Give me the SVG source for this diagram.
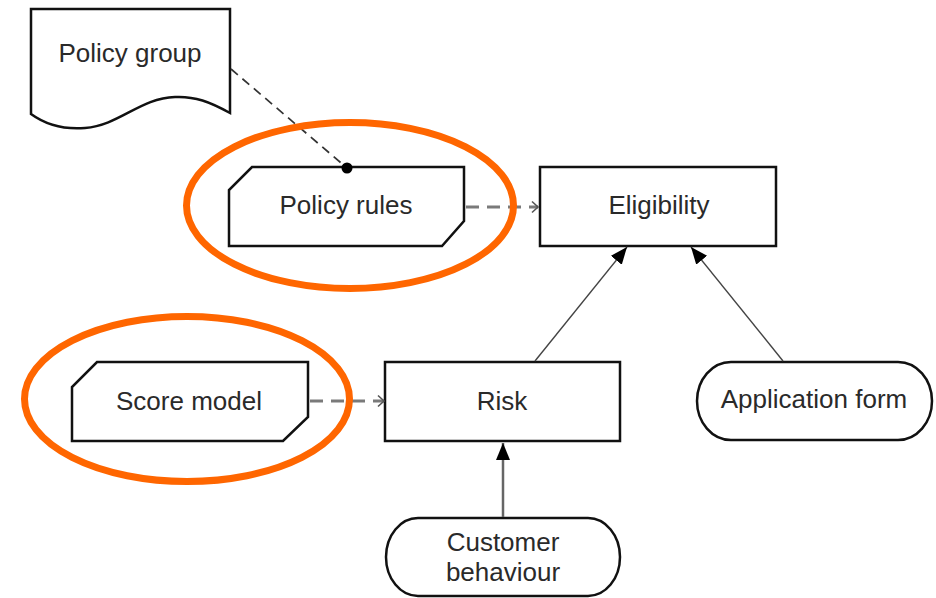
<svg xmlns="http://www.w3.org/2000/svg" width="936" height="598" viewBox="0 0 936 598">
<defs>
<style>
.box{fill:#fff;stroke:#111;stroke-width:2.5}
.t{font-family:"Liberation Sans",Arial,sans-serif;font-size:26px;fill:#2a2a2a;text-anchor:middle}
.dash{fill:none;stroke:#7a7a7a;stroke-width:3;stroke-dasharray:13 8}
.assoc{fill:none;stroke:#333;stroke-width:1.7;stroke-dasharray:9 6}
.flow{fill:none;stroke:#444;stroke-width:1.4}
.flowv{fill:none;stroke:#666;stroke-width:2.5}
.hl{fill:none;stroke:#ff6600;stroke-width:7}
</style>
<marker id="filled" markerUnits="userSpaceOnUse" markerWidth="18" markerHeight="16" refX="17" refY="7" orient="auto">
<path d="M0,0 L17,7 L0,14 Z" fill="#000"/>
</marker>
<marker id="open" markerUnits="userSpaceOnUse" markerWidth="10" markerHeight="14" refX="7" refY="7" orient="auto">
<path d="M1,1.5 L7,7 L1,12.5" fill="none" stroke="#555" stroke-width="1.6"/>
</marker>
</defs>
<rect width="936" height="598" fill="#fff"/>

<g id="policy-group">
<path class="box" d="M31,9 L230,9 L230,113 C210,102 195,96 175,97 C140,98 120,125 85,128 C60,130 42,122 31,114 Z"/>
<text class="t" x="130" y="62">Policy group</text>
</g>

<g id="policy-rules">
<path class="box" d="M252,167 L464,167 L464,221 L442,246 L229,246 L229,190 Z"/>
<text class="t" x="346" y="214">Policy rules</text>
</g>

<g id="eligibility">
<rect class="box" x="540" y="167" width="236" height="79"/>
<text class="t" x="659" y="214">Eligibility</text>
</g>

<g id="score-model">
<path class="box" d="M97,362 L308,362 L308,417 L283,441 L72,441 L72,387 Z"/>
<text class="t" x="189" y="410">Score model</text>
</g>

<g id="risk">
<rect class="box" x="385" y="362" width="235" height="79"/>
<text class="t" x="502" y="410">Risk</text>
</g>

<g id="application-form">
<rect class="box" x="697" y="362" width="235" height="78" rx="34" ry="39"/>
<text class="t" x="814" y="408">Application form</text>
</g>

<g id="customer-behaviour">
<rect class="box" x="386" y="518" width="234" height="78" rx="32" ry="39"/>
<text class="t" x="503" y="551">Customer</text>
<text class="t" x="503" y="581">behaviour</text>
</g>

<g id="connectors">
<path class="assoc" d="M231,69 L347,168"/>
<circle cx="347" cy="168" r="5.5" fill="#000"/>
<path class="dash" d="M466,207 L538,207" marker-end="url(#open)"/>
<path class="dash" d="M310,401 L384,401" marker-end="url(#open)"/>
<path class="flow" d="M535,361 L627,247" marker-end="url(#filled)"/>
<path class="flow" d="M783,361 L691,247" marker-end="url(#filled)"/>
<path class="flowv" d="M503,517 L503,443" marker-end="url(#filled)"/>
</g>

<g id="highlights">
<ellipse class="hl" cx="350" cy="205.5" rx="163.5" ry="83"/>
<ellipse class="hl" cx="187" cy="399" rx="162.5" ry="82.5"/>
</g>
</svg>
